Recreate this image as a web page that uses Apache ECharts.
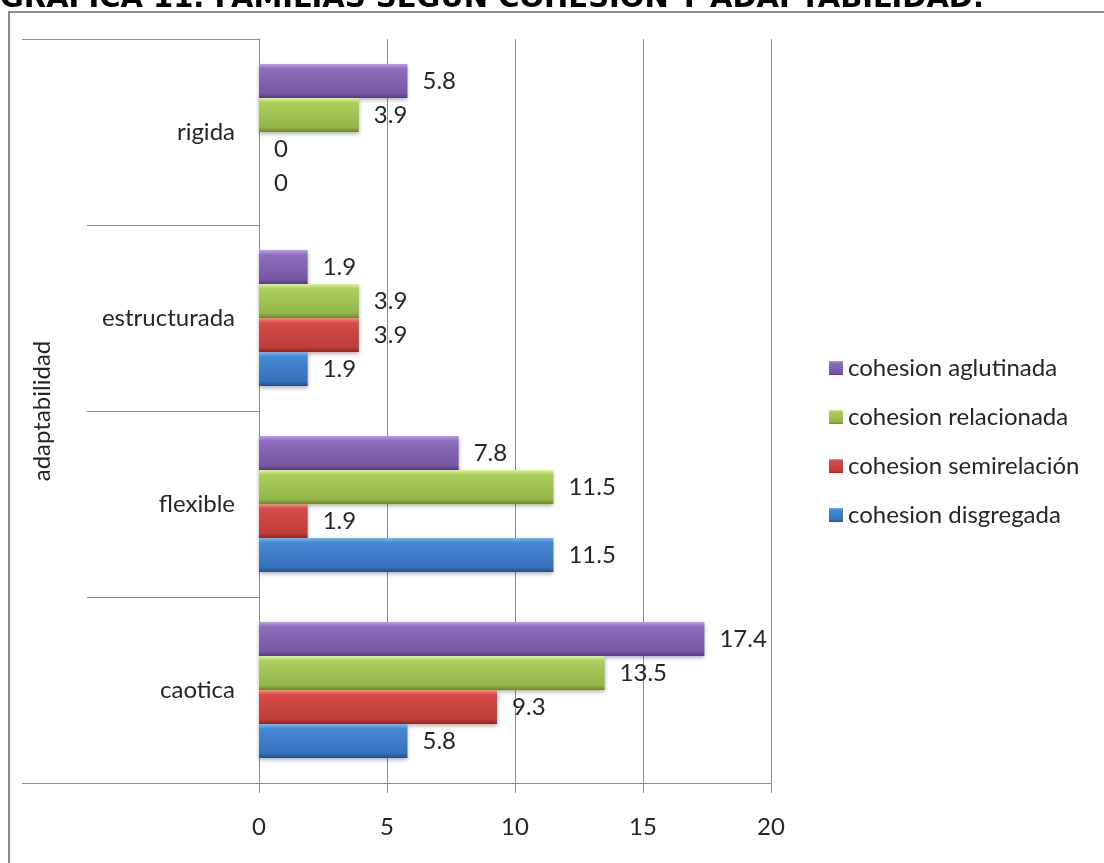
<!DOCTYPE html>
<html>
<head>
<meta charset="utf-8">
<script src="https://cdn.jsdelivr.net/npm/echarts@6/dist/echarts.min.js"></script>
<style>
  html, body { margin: 0; padding: 0; background: #fff; }
  #chart { width: 1104px; height: 863px; }
</style>
</head>
<body>
<div id="chart"></div>
<script>
// categorias de adaptabilidad (de abajo hacia arriba)
const categories = ['caotica', 'flexible', 'estructurada', 'rigida'];

// porcentajes por tipo de cohesion
const disgregada = [5.8, 11.5, 1.9, 0];
const semirelacion = [9.3, 1.9, 3.9, 0];
const relacionada = [13.5, 11.5, 3.9, 3.9];
const aglutinada = [17.4, 7.8, 1.9, 5.8];

const xTicks = [0, 5, 10, 15, 20];

const chart = echarts.init(document.getElementById('chart'));
const font = 'Lato, "Noto Sans", sans-serif';
const fs = 24;

// gradiente vertical para imitar el bisel de Excel
const bevel = (light, top, bottom, dark) => new echarts.graphic.LinearGradient(0, 0, 0, 1, [
  { offset: 0, color: light },
  { offset: 0.14, color: top },
  { offset: 0.86, color: bottom },
  { offset: 1, color: dark }
]);

const makeSeries = (name, data, fill) => ({
  name: name,
  type: 'bar',
  data: data,
  barGap: 0,
  barCategoryGap: '27%',
  itemStyle: {
    color: fill,
    shadowBlur: 4,
    shadowOffsetY: 2,
    shadowColor: 'rgba(0,0,0,0.3)'
  },
  label: {
    show: true,
    position: 'right',
    distance: 15,
    fontFamily: font,
    fontSize: fs,
    color: '#262626'
  }
});

const option = {
  animation: false,
  backgroundColor: '#fff',
  grid: { left: 259, right: 333, top: 39, bottom: 80 },
  legend: {
    orient: 'vertical',
    left: 824,
    top: 351,
    icon: 'rect',
    itemWidth: 14,
    itemHeight: 14,
    itemGap: 25,
    data: ['cohesion aglutinada', 'cohesion relacionada', 'cohesion semirelación', 'cohesion disgregada'],
    textStyle: { fontFamily: font, fontSize: fs, lineHeight: 24, color: '#262626' }
  },
  xAxis: {
    type: 'value',
    min: 0,
    max: 20,
    interval: 5,
    axisLine: { show: true, lineStyle: { color: '#8c8c8c', width: 1 } },
    axisTick: { show: true, length: 10, lineStyle: { color: '#8c8c8c' } },
    splitLine: { show: true, lineStyle: { color: '#8c8c8c', width: 1 } },
    axisLabel: {
      fontFamily: font, fontSize: fs, color: '#262626', margin: 32,
      formatter: (v) => xTicks.includes(v) ? String(v) : ''
    }
  },
  yAxis: {
    type: 'category',
    data: categories,
    name: 'adaptabilidad',
    nameLocation: 'middle',
    nameRotate: 90,
    nameGap: 205,
    nameTextStyle: { fontFamily: font, fontSize: fs, color: '#262626' },
    axisLine: { show: true, lineStyle: { color: '#8c8c8c', width: 1 } },
    axisTick: { show: true, length: 172, interval: 0, lineStyle: { color: '#8c8c8c' } },
    axisLabel: { fontFamily: font, fontSize: fs, color: '#262626', margin: 24 },
    splitLine: { show: false }
  },
  series: [
    makeSeries('cohesion aglutinada', aglutinada, bevel('#bb9ce2', '#8f6cbd', '#7756a2', '#573d7b')),
    makeSeries('cohesion relacionada', relacionada, bevel('#dcf595', '#abcf5c', '#93b54a', '#6c8831')),
    makeSeries('cohesion semirelación', semirelacion, bevel('#fb8a86', '#d44b47', '#bf3e3a', '#8a2a27')),
    makeSeries('cohesion disgregada', disgregada, bevel('#74b8f7', '#4588d3', '#3872b8', '#264f86'))
  ],
  graphic: [
    {
      type: 'text', left: 0, top: -15,
      style: {
        text: 'GRAFICA 11. FAMILIAS SEGÚN COHESIÓN Y ADAPTABILIDAD.',
        font: 'bold 29px "DejaVu Sans", Verdana, sans-serif',
        fill: '#000'
      }
    },
    {
      type: 'rect', shape: { x: 9, y: 12, width: 1200, height: 1000 },
      style: { fill: 'none', stroke: '#8c8c8c', lineWidth: 2 }, silent: true
    },
    {
      type: 'line', shape: { x1: 22, y1: 39.5, x2: 259, y2: 39.5 },
      style: { stroke: '#8c8c8c', lineWidth: 1 }
    },
    {
      type: 'line', shape: { x1: 22, y1: 783.5, x2: 259, y2: 783.5 },
      style: { stroke: '#8c8c8c', lineWidth: 1 }
    }
  ]
};

chart.setOption(option);
</script>
</body>
</html>
